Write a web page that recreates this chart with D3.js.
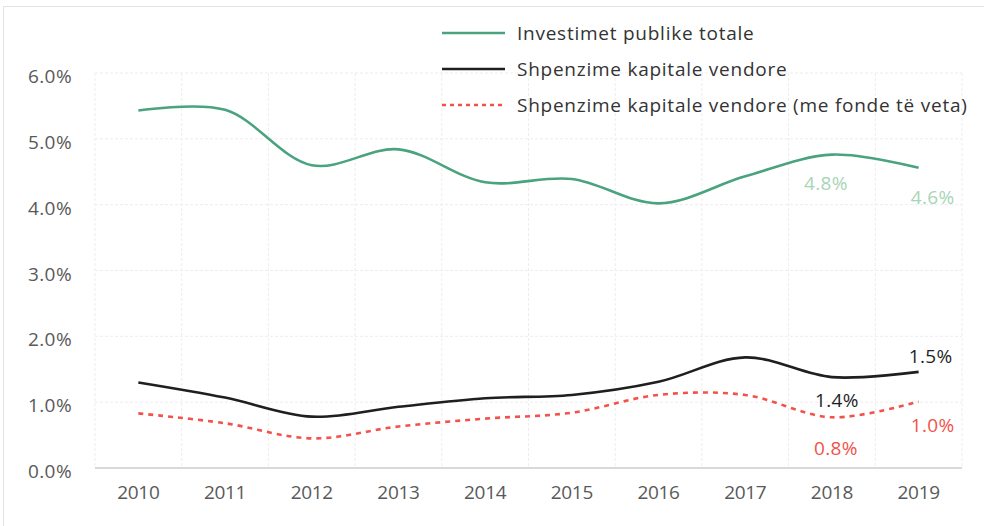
<!DOCTYPE html>
<html>
<head>
<meta charset="utf-8">
<script src="https://cdn.jsdelivr.net/npm/d3@7"></script>
<style>
  html, body { margin: 0; padding: 0; background: #fff; }
  svg { display: block; font-family: "Open Sans", Lato, sans-serif; font-weight: 400; }
</style>
</head>
<body>
<svg id="chart" width="984" height="526"></svg>
<script>
// Years on the horizontal axis
const years = ["2010", "2011", "2012", "2013", "2014", "2015", "2016", "2017", "2018", "2019"];

// Shares of GDP (%)
const publicInvestment = [5.43, 5.44, 4.60, 4.84, 4.34, 4.39, 4.02, 4.43, 4.76, 4.56];
const localCapital     = [1.30, 1.07, 0.78, 0.93, 1.06, 1.11, 1.31, 1.68, 1.38, 1.46];
const localCapitalOwn  = [0.83, 0.68, 0.45, 0.63, 0.75, 0.84, 1.11, 1.11, 0.77, 1.01];

const yTicks = [0, 1, 2, 3, 4, 5, 6];

const seriesNames = [
  "Investimet publike totale",
  "Shpenzime kapitale vendore",
  "Shpenzime kapitale vendore (me fonde të veta)"
];

const series = [
  { name: seriesNames[0], values: publicInvestment, color: "#4aa37f", labelColor: "#a8d5b6", dash: null },
  { name: seriesNames[1], values: localCapital,     color: "#1f1f1f", labelColor: "#1f1f1f", dash: null },
  { name: seriesNames[2], values: localCapitalOwn,  color: "#f2524a", labelColor: "#f2524a", dash: "5,5" }
];

const FONT = 19;
const svg = d3.select("#chart");

// Frame
svg.append("rect")
  .attr("x", 3.5).attr("y", 6.5)
  .attr("width", 990).attr("height", 530)
  .attr("fill", "none")
  .attr("stroke", "#e3e3e3");

const x = d3.scaleBand().domain(years).range([95, 962]).padding(0);
const y = d3.scaleLinear().domain([0, 6]).range([468, 73]);
const cx = d => x(d) + x.bandwidth() / 2;

// Grid
const grid = svg.append("g");
grid.selectAll("line.h")
  .data(yTicks.slice(1))
  .join("line")
  .attr("x1", 95).attr("x2", 962)
  .attr("y1", d => y(d)).attr("y2", d => y(d))
  .attr("stroke", "#ededed").attr("stroke-dasharray", "3,2");

const bounds = years.map(d => x(d)).concat([x(years[years.length - 1]) + x.bandwidth()]);
grid.selectAll("line.v")
  .data(bounds)
  .join("line")
  .attr("x1", d => d).attr("x2", d => d)
  .attr("y1", y(6)).attr("y2", y(0))
  .attr("stroke", "#ededed").attr("stroke-dasharray", "3,2");

// Baseline
svg.append("line")
  .attr("x1", 95).attr("x2", 962)
  .attr("y1", y(0)).attr("y2", y(0))
  .attr("stroke", "#d9d9d9").attr("stroke-width", 2);

// Y axis labels
const yAxis = d3.axisLeft(y).tickValues(yTicks).tickFormat(d => d3.format(".1f")(d) + "%").tickSize(0).tickPadding(0);
const gy = svg.append("g").attr("transform", "translate(72,0)").call(yAxis)
  .attr("font-family", null).attr("font-size", FONT);
gy.select(".domain").remove();
gy.selectAll("text")
  .attr("fill", "#595959")
  .attr("letter-spacing", "0.4px")
  .attr("dy", "0.5em");

// X axis labels
const xAxis = d3.axisBottom(x).tickSize(0).tickPadding(0);
const gx = svg.append("g").attr("transform", "translate(0,486)").call(xAxis)
  .attr("font-family", null).attr("font-size", FONT);
gx.select(".domain").remove();
gx.selectAll("text")
  .attr("fill", "#595959")
  .attr("letter-spacing", "-0.3px")
  .attr("dy", "0.7em");

// Lines
const line = d3.line()
  .x((d, i) => cx(years[i]))
  .y(d => y(d))
  .curve(d3.curveCatmullRom.alpha(0.5));

svg.append("g").selectAll("path")
  .data(series)
  .join("path")
  .attr("d", s => line(s.values))
  .attr("fill", "none")
  .attr("stroke", s => s.color)
  .attr("stroke-width", 2.6)
  .attr("stroke-dasharray", s => s.dash)
  .attr("stroke-linecap", "butt");

// Value labels for the last two years
const fmt = v => d3.format(".1f")(v) + "%";
const labelSpecs = [
  { s: 0, i: 8, dx: -6, dy: 29 },
  { s: 0, i: 9, dx: 14, dy: 30 },
  { s: 1, i: 8, dx: 5,  dy: 23 },
  { s: 1, i: 9, dx: 12, dy: -16 },
  { s: 2, i: 8, dx: 4,  dy: 31 },
  { s: 2, i: 9, dx: 14, dy: 24 }
];
svg.append("g").selectAll("text")
  .data(labelSpecs)
  .join("text")
  .attr("x", d => cx(years[d.i]) + d.dx)
  .attr("y", d => y(series[d.s].values[d.i]) + d.dy)
  .attr("dy", "0.35em")
  .attr("text-anchor", "middle")
  .attr("font-size", FONT)
  .attr("letter-spacing", "0.4px")
  .attr("fill", d => series[d.s].labelColor)
  .text(d => fmt(series[d.s].values[d.i]));

// Legend
const legend = svg.append("g");
const rows = legend.selectAll("g")
  .data(series)
  .join("g")
  .attr("transform", (d, i) => `translate(442,${33 + i * 36})`);
rows.append("line")
  .attr("x1", 0).attr("x2", 63)
  .attr("y1", 0).attr("y2", 0)
  .attr("stroke", d => d.color)
  .attr("stroke-width", 2.6)
  .attr("stroke-dasharray", d => d.dash ? "4,4" : null);
rows.append("text")
  .attr("x", 75)
  .attr("dy", "0.35em")
  .attr("font-size", FONT)
  .attr("letter-spacing", "0.75px")
  .attr("fill", "#333")
  .text(d => d.name);
</script>
</body>
</html>
